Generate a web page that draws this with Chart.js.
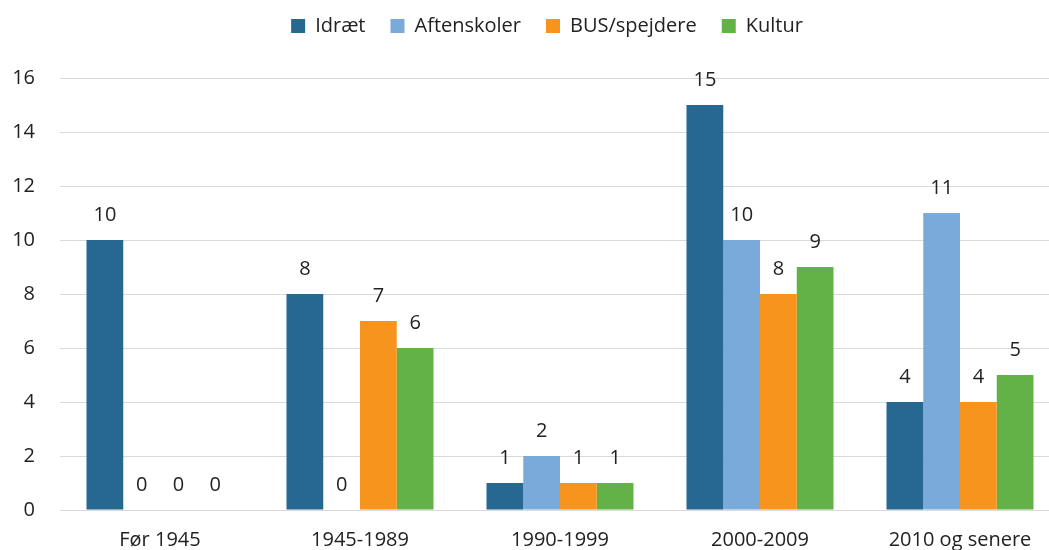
<!DOCTYPE html>
<html>
<head>
<meta charset="utf-8">
<script src="https://cdn.jsdelivr.net/npm/chart.js@4"></script>
<style>
  body { margin: 0; overflow: hidden; background: #fff; }
  #wrap { width: 1060px; height: 562px; }
</style>
</head>
<body>
<div id="wrap"><canvas id="chart"></canvas></div>
<script>
"use strict";

// Data
const categories = ["Før 1945", "1945-1989", "1990-1999", "2000-2009", "2010 og senere"];
const idraet = [10, 8, 1, 15, 4];
const aftenskoler = [0, 0, 2, 10, 11];
const spejdere = [0, 7, 1, 8, 4];
const kultur = [0, 6, 1, 9, 5];
const yTicks = [0, 2, 4, 6, 8, 10, 12, 14, 16];

const font = "'Open Sans', sans-serif";
const textColor = "#222";

// draws the value above every bar (also the zeros)
const valueLabels = {
  id: "valueLabels",
  afterInit(chart) {
    // more room between legend and plot
    const legend = chart.legend;
    const fit = legend.fit;
    legend.fit = function () {
      fit.call(this);
      this.height += 32;
    };
  },
  afterLayout(chart) {
    // the legend sits a bit right of the canvas centre in the original
    chart.legend.left += 11;
    chart.legend.right += 11;
  },
  afterDatasetsDraw(chart) {
    const ctx = chart.ctx;
    ctx.save();
    ctx.font = "20px " + font;
    ctx.fillStyle = textColor;
    ctx.textAlign = "center";
    ctx.textBaseline = "middle";
    chart.data.datasets.forEach((ds, i) => {
      chart.getDatasetMeta(i).data.forEach((bar, j) => {
        ctx.fillText(ds.data[j], bar.x, bar.y - 25);
      });
    });
    ctx.restore();
  },
};

const ctx = document.getElementById("chart").getContext("2d");
new Chart(ctx, {
  type: "bar",
  data: {
    labels: categories,
    datasets: [
      { label: "Idræt", data: idraet, backgroundColor: "#276891" },
      { label: "Aftenskoler", data: aftenskoler, backgroundColor: "#79aad9" },
      { label: "BUS/spejdere", data: spejdere, backgroundColor: "#f7941e" },
      { label: "Kultur", data: kultur, backgroundColor: "#62b247" },
    ],
  },
  options: {
    responsive: true,
    maintainAspectRatio: false,
    animation: false,
    layout: { padding: { left: 12, right: 0, top: -9, bottom: 0 } },
    datasets: {
      bar: { categoryPercentage: 0.735, barPercentage: 1, borderWidth: 0 },
    },
    scales: {
      x: {
        grid: { display: false },
        border: { display: false },
        ticks: { color: textColor, font: { family: font, size: 20 }, padding: 10, maxRotation: 0 },
      },
      y: {
        min: 0,
        max: 16,
        afterBuildTicks: (scale) => {
          scale.ticks = yTicks.map((v) => ({ value: v }));
        },
        afterFit: (scale) => {
          scale.width = 48;
        },
        grid: { color: "#d9d9d9", lineWidth: 1, drawTicks: false },
        border: { display: false },
        ticks: { color: textColor, font: { family: font, size: 20 }, padding: 25 },
      },
    },
    plugins: {
      legend: {
        position: "top",
        labels: {
          boxWidth: 14,
          boxHeight: 14,
          padding: 25,
          color: textColor,
          font: { family: font, size: 20 },
        },
      },
      tooltip: { enabled: false },
    },
  },
  plugins: [valueLabels],
});
</script>
</body>
</html>
